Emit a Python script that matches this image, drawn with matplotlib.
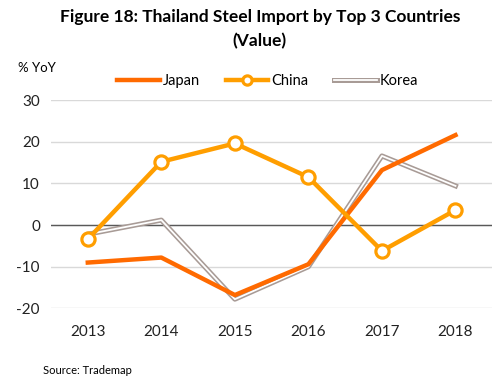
import matplotlib.pyplot as plt
import matplotlib.patheffects as pe

years = ["2013", "2014", "2015", "2016", "2017", "2018"]
japan = [-9.0, -7.8, -16.8, -9.4, 13.2, 21.6]
china = [-3.4, 15.2, 19.6, 11.5, -6.2, 3.6]
korea = [-2.2, 1.2, -17.8, -10.0, 16.6, 9.4]

plt.rcParams['font.family'] = ['Lato', 'DejaVu Sans']
plt.rcParams['axes.unicode_minus'] = False

fig = plt.figure(figsize=(4.93, 3.85), dpi=100)
ax = fig.add_axes([0.1035, 0.199, 0.895, 0.541])

x = range(len(years))
ax.plot(x, korea, color="white", lw=1.3, zorder=3, label="Korea",
        path_effects=[pe.Stroke(linewidth=3.6, foreground="#A89B96"), pe.Normal()])
ax.plot(x, japan, color="#FF6A00", lw=3.2, zorder=4, label="Japan")
ax.plot(x, china, color="#FF9E00", lw=3.2, zorder=5, label="China",
        marker="o", markersize=9.5, markerfacecolor="white",
        markeredgecolor="#FF9E00", markeredgewidth=2.3)

ax.set_xlim(-0.5, len(years) - 0.5)
ax.set_ylim(-20, 30)
ax.set_yticks([-20, -10, 0, 10, 20, 30])
ax.set_xticks(list(x))
ax.set_xticklabels(years)
ax.tick_params(length=0, labelsize=11, colors="#222222")
ax.tick_params(axis="x", pad=12)
ax.tick_params(axis="y", pad=8)
for s in ax.spines.values():
    s.set_visible(False)
ax.grid(axis="y", color="#D9D9D9", lw=1)
ax.set_axisbelow(True)
ax.axhline(0, color="#595959", lw=1, zorder=2)

h, l = ax.get_legend_handles_labels()
order = [1, 2, 0]
fig.legend([h[i] for i in order], [l[i] for i in order], loc="center",
           bbox_to_anchor=(0.543, 0.789), ncol=3, frameon=False,
           fontsize=10.5, handlelength=2.9, handletextpad=0.2,
           columnspacing=1.8, markerscale=0.7)

fig.text(0.527, 0.955, "Figure 18: Thailand Steel Import by Top 3 Countries",
         ha="center", va="center", fontsize=12.5, fontweight="bold")
fig.text(0.527, 0.892, "(Value)", ha="center", va="center",
         fontsize=12.5, fontweight="bold")
fig.text(0.037, 0.823, "% YoY", ha="left", va="center", fontsize=9.5)
fig.text(0.087, 0.038, "Source: Trademap", ha="left", va="center", fontsize=8)

fig.savefig("out.png", dpi=100)
